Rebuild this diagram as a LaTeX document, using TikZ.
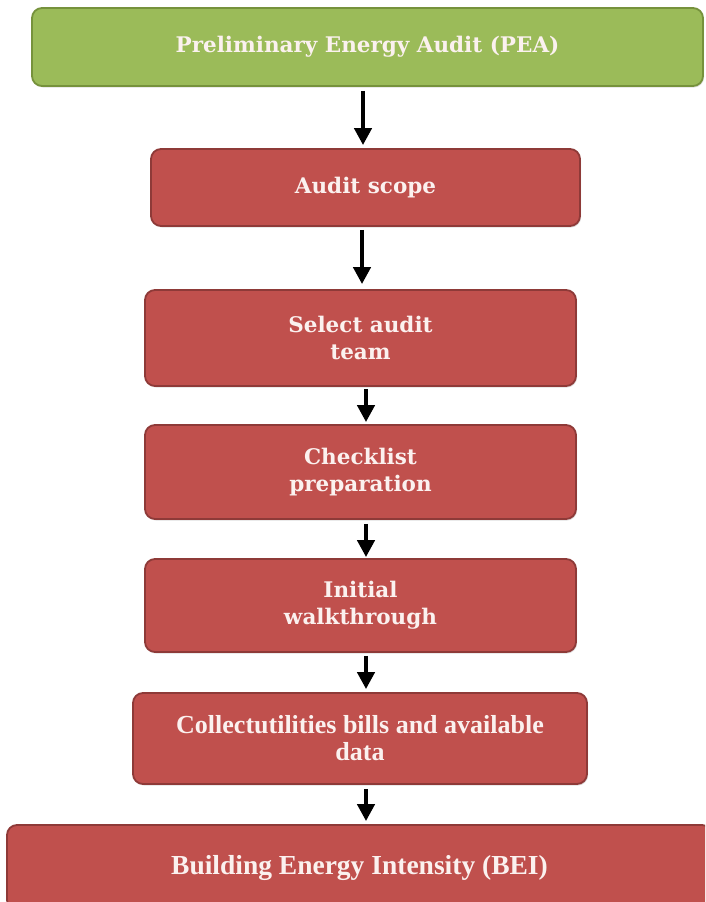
\documentclass[tikz,border=0pt]{standalone}
\usepackage{fontspec}
\setmainfont{DejaVu Serif}
\newfontfamily\lsfont{Liberation Serif}
\usetikzlibrary{arrows.meta,shadows}
\definecolor{gfill}{HTML}{9BBB59}
\definecolor{gdraw}{HTML}{76923C}
\definecolor{rfill}{HTML}{C0504D}
\definecolor{rdraw}{HTML}{8E3A38}
\definecolor{txt}{HTML}{FBF1EF}
\begin{document}
\begin{tikzpicture}[x=1pt,y=1pt,
  box/.style={rounded corners=10pt, line width=1.8pt, draw=rdraw, fill=rfill,
    text=txt, font=\bfseries\fontsize{21.5}{27}\selectfont, align=center,
    inner sep=0pt, minimum width=431pt,
    drop shadow={opacity=0.25, shadow xshift=1pt, shadow yshift=-1.5pt}},
  gbox/.style={box, draw=gdraw, fill=gfill},
  arr/.style={-{Triangle[width=17pt,length=17pt]}, line width=4.5pt, black}]
\useasboundingbox (0,0) rectangle (705,-902);
\fill[white] (0,0) rectangle (705,-902);
\begin{scope}
\clip (0,0) rectangle (705,-902);
\node[gbox, minimum width=671pt, minimum height=78pt] (pea) at (367.5,-47) {Preliminary Energy Audit (PEA)};
\node[box, minimum width=429pt, minimum height=77pt] (scope) at (365.5,-187.5) {Audit scope};
\node[box, minimum height=96pt] (team) at (360.5,-338) {Select audit\\team};
\node[box, minimum height=94pt] (check) at (360.5,-472) {Checklist\\preparation};
\node[box, minimum height=93pt] (walk) at (360.5,-605.5) {Initial\\walkthrough};
\node[box, minimum width=454pt, minimum height=91pt, font=\lsfont\bfseries\fontsize{26}{27}\selectfont] (collect) at (360,-738.5) {Collectutilities bills and available\\data};
\node[box, minimum width=705pt, minimum height=85pt, font=\lsfont\bfseries\fontsize{27.5}{27}\selectfont] (bei) at (359.5,-867.5) {Building Energy Intensity (BEI)};
\end{scope}
\draw[arr, shorten <=4pt, shorten >=3pt] (pea.south -| 363,0) -- (scope.north -| 363,0);
\draw[arr, shorten <=3pt, shorten >=5pt] (scope.south -| 362,0) -- (team.north -| 362,0);
\draw[arr, shorten <=2pt, shorten >=2pt] (team.south -| 366,0) -- (check.north -| 366,0);
\draw[arr, shorten <=4pt, shorten >=1pt] (check.south -| 366,0) -- (walk.north -| 366,0);
\draw[arr, shorten <=3pt, shorten >=3pt] (walk.south -| 366,0) -- (collect.north -| 366,0);
\draw[arr, shorten <=4pt, shorten >=3pt] (collect.south -| 366,0) -- (bei.north -| 366,0);
\end{tikzpicture}
\end{document}
